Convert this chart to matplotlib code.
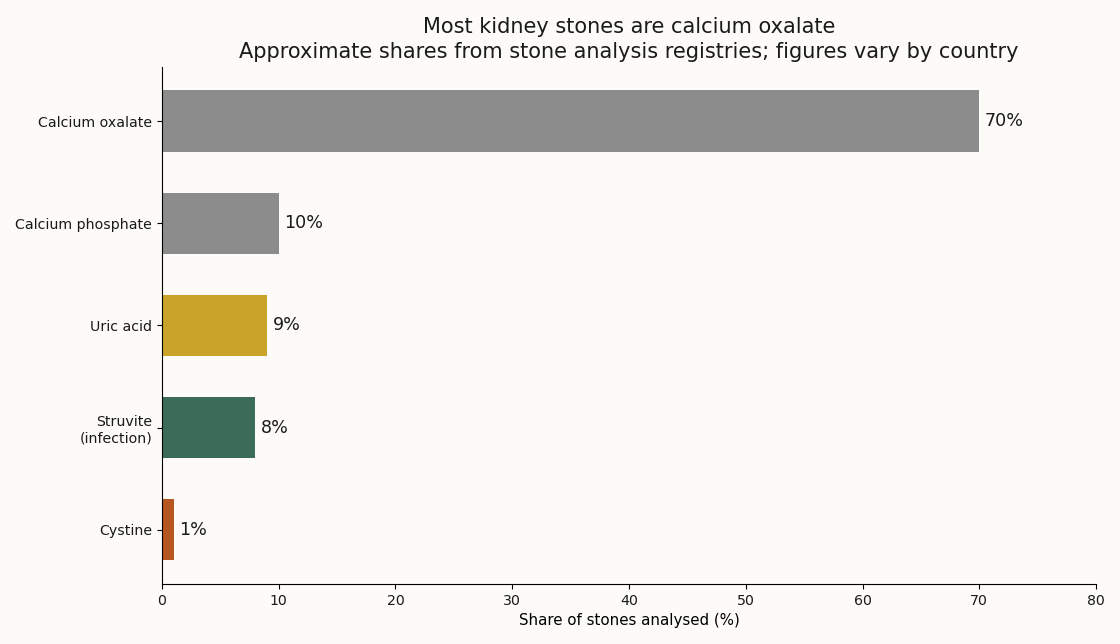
import matplotlib
matplotlib.use("Agg")
import matplotlib.pyplot as plt

categories = ["Calcium oxalate", "Calcium phosphate", "Uric acid", "Struvite\n(infection)", "Cystine"]
values = [70, 10, 9, 8, 1]
colors = ["#8c8c8c", "#8c8c8c", "#c9a32a", "#3d6b5a", "#b5571f"]
xticks = [0, 10, 20, 30, 40, 50, 60, 70, 80]

bg = "#fcfbf7"
plt.rcParams["text.color"] = "#1a1a1a"
plt.rcParams["xtick.labelcolor"] = "#1a1a1a"
plt.rcParams["ytick.labelcolor"] = "#1a1a1a"
fig = plt.figure(figsize=(11.2, 6.44), dpi=100, facecolor=bg)
ax = fig.add_axes([0.1446, 0.0932, 0.834, 0.8028], facecolor=bg)

ypos = list(range(len(categories)))
ax.barh(ypos, values, height=0.6, color=colors)
ax.invert_yaxis()
ax.set_yticks(ypos)
ax.set_yticklabels(categories, fontsize=10.2)
ax.set_xlim(0, 80)
ax.set_xticks(xticks)
ax.tick_params(axis="x", labelsize=10.2)
for y, v in zip(ypos, values):
    ax.text(v + 0.5, y, f"{v}%", va="center", ha="left", fontsize=12.6)
ax.set_xlabel("Share of stones analysed (%)", fontsize=10.8)
ax.set_title("Most kidney stones are calcium oxalate\nApproximate shares from stone analysis registries; figures vary by country",
             fontsize=15, pad=6.5, linespacing=1.3)
ax.spines["top"].set_visible(False)
ax.spines["right"].set_visible(False)

fig.savefig("out.png", dpi=100, facecolor=bg)
